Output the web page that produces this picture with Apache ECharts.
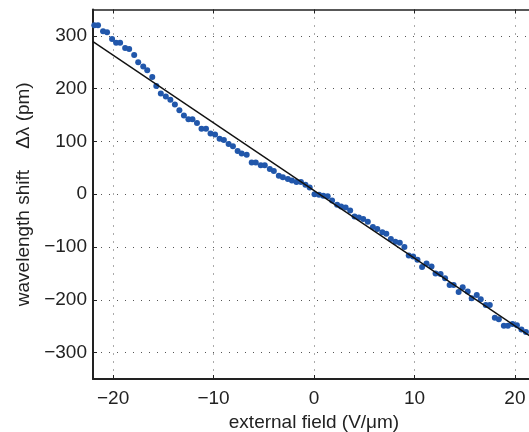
<!DOCTYPE html>
<html>
<head>
<meta charset="UTF-8">
<title>wavelength shift</title>
<script type="text/javascript" src="https://cdn.jsdelivr.net/npm/echarts@6/dist/echarts.min.js"></script>
<style>
  html, body { margin: 0; padding: 0; background: #fff; }
</style>
</head>
<body>
<div id="main" style="width:529px; height:432px;"></div>
<script type="text/javascript">
// measured points
var fieldX = [-21.87, -21.5, -21.0, -20.6, -20.1, -19.7, -19.3, -18.8, -18.4, -17.9,
  -17.5, -17.0, -16.6, -16.1, -15.7, -15.25, -14.75, -14.3, -13.85, -13.4,
  -12.95, -12.5, -12.1, -11.65, -11.2, -10.75, -10.3, -9.85, -9.4, -8.97,
  -8.5, -8.07, -7.6, -7.2, -6.7, -6.2, -5.8, -5.3, -4.9, -4.4,
  -4.0, -3.5, -3.1, -2.6, -2.2, -1.75, -1.3, -0.85, -0.43, 0.05,
  0.5, 0.93, 1.36, 1.8, 2.3, 2.7, 3.15, 3.6, 4.04, 4.47,
  4.9, 5.36, 5.86, 6.3, 6.8, 7.2, 7.65, 8.1, 8.54, 9.0,
  9.43, 9.87, 10.3, 10.76, 11.2, 11.7, 12.1, 12.6, 13.05, 13.5,
  13.9, 14.4, 14.8, 15.3, 15.7, 16.2, 16.6, 17.1, 17.5, 18.0,
  18.4, 18.9, 19.3, 19.76, 20.2, 20.65, 21.1];
var shiftY = [320, 320, 309, 307, 294, 287, 287, 277, 275, 264,
  250, 242, 235, 222, 205, 191, 185, 179, 170, 159,
  149, 142, 142, 135, 124, 124, 115, 113, 105, 103,
  95, 91, 82, 77, 75, 60, 60, 55, 55, 48,
  44, 35, 32, 29, 26, 23, 23, 18, 13, 0,
  -1, -3, -4, -12, -20, -23, -25, -31, -42, -44,
  -47, -52, -62, -66, -72, -75, -85, -90, -92, -100,
  -116, -118, -124, -138, -131, -137, -150, -151, -159, -172,
  -172, -185, -176, -184, -197, -191, -199, -210, -210, -234,
  -237, -249, -249, -246, -248, -256, -261];

// linear fit
var fitX = [-22, 22];
var fitY = [289, -275];

var xTicks = [-20, -10, 0, 10, 20];
var yTicks = [-300, -200, -100, 0, 100, 200, 300];

var points = fieldX.map(function (x, i) { return [x, shiftY[i]]; });
var fitLine = fitX.map(function (x, i) { return [x, fitY[i]]; });

var fontName = 'Liberation Sans, Arial, sans-serif';
var gridLine = { show: true, lineStyle: { color: '#555', width: 1, type: [1, 7] } };
function minus(v) { return String(v).replace('-', '\u2212'); }

var myChart = echarts.init(document.getElementById('main'));

var option = {
  animation: false,
  backgroundColor: '#fff',
  grid: { left: 93, width: 442, top: 9.5, height: 369.5, outerBoundsMode: 'none' },
  xAxis: [{
    type: 'value',
    min: -22, max: 22,
    name: 'external field (V/\u03bcm)',
    nameLocation: 'middle',
    nameGap: 28,
    nameTextStyle: { color: '#222', fontSize: 19, fontFamily: fontName },
    axisLine: { show: true, onZero: false, lineStyle: { color: '#222', width: 2 } },
    axisTick: { show: true, inside: true, length: 4, customValues: xTicks, lineStyle: { color: '#222' } },
    axisLabel: { color: '#222', fontSize: 19, fontFamily: fontName, margin: 10, customValues: xTicks, formatter: minus },
    splitLine: gridLine
  }, {
    type: 'value',
    position: 'top',
    min: -22, max: 22,
    axisLine: { show: true, onZero: false, lineStyle: { color: '#222', width: 1.5 } },
    axisTick: { show: true, inside: true, length: 4, customValues: xTicks, lineStyle: { color: '#222' } },
    axisLabel: { show: false },
    splitLine: { show: false }
  }],
  yAxis: {
    type: 'value',
    min: -350, max: 350,
    name: 'wavelength shift    \u0394\u03bb (pm)',
    nameLocation: 'middle',
    nameGap: 56,
    nameRotate: 90,
    nameTextStyle: { color: '#222', fontSize: 19, fontFamily: fontName },
    axisLine: { show: true, onZero: false, lineStyle: { color: '#222', width: 2 } },
    axisTick: { show: true, inside: true, length: 4, customValues: yTicks, lineStyle: { color: '#222' } },
    axisLabel: { color: '#222', fontSize: 19, fontFamily: fontName, margin: 6, customValues: yTicks, formatter: minus },
    splitLine: gridLine
  },
  series: [{
    type: 'scatter',
    data: points,
    symbol: 'circle',
    symbolSize: 6,
    itemStyle: { color: '#2157ab', opacity: 1 },
    z: 3
  }, {
    type: 'line',
    data: fitLine,
    symbol: 'none',
    lineStyle: { color: '#111', width: 1.4 },
    z: 4
  }]
};

myChart.setOption(option);
</script>
</body>
</html>
